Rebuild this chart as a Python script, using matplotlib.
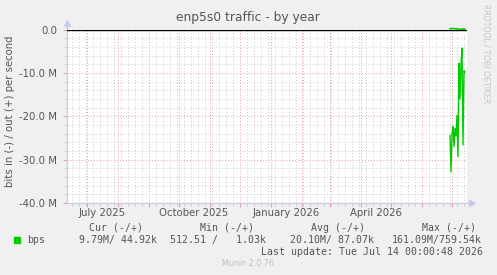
#!/usr/bin/env python3
"""Munin style yearly traffic graph for enp5s0."""

import datetime as dt

import matplotlib
matplotlib.use("Agg")
import matplotlib.dates as mdates
import matplotlib.pyplot as plt
import matplotlib.transforms as mtransforms
from matplotlib.ticker import FixedLocator, MultipleLocator, NullFormatter

# daily averages, last weeks of the year (bits per second)
days = [dt.datetime(2026, 6, 29) + dt.timedelta(days=i) for i in range(16)]
bits_in = [24.5e6, 32.8e6, 24.0e6, 22.4e6, 27.0e6, 22.8e6, 24.5e6, 19.8e6,
           29.3e6, 7.8e6, 16.0e6, 8.0e6, 4.3e6, 26.6e6, 9.5e6, 9.79e6]
bits_out = [150e3, 200e3, 220e3, 250e3, 200e3, 180e3, 160e3, 150e3,
            120e3, 90e3, 70e3, 60e3, 45e3, 150e3, 60e3, 44.9e3]

x_start = dt.datetime(2025, 6, 11)
x_end = dt.datetime(2026, 7, 16)
month_labels = ["July 2025", "October 2025", "January 2026", "April 2026"]
month_label_pos = [dt.datetime(2025, 7, 16), dt.datetime(2025, 10, 16),
                   dt.datetime(2026, 1, 16), dt.datetime(2026, 4, 16)]
y_ticks = [0, -10e6, -20e6, -30e6, -40e6]
y_tick_labels = ["0.0", "-10.0 M", "-20.0 M", "-30.0 M", "-40.0 M"]

BG = "#f0f0f0"
GREEN = "#00cc00"
TXT = "#555555"
MAJOR = "#e8a0a0"
MINOR = "#cccccc"
AXIS = "#c8c8f0"

W, H = 497, 275
fig = plt.figure(figsize=(W / 100, H / 100), dpi=100, facecolor=BG)
left, right, top, bottom = 67, 467, 29.5, 203
ax = fig.add_axes([left / W, 1 - bottom / H, (right - left) / W, (bottom - top) / H])
ax.set_facecolor("white")

ax.set_xlim(x_start, x_end)
ax.set_ylim(-40e6, 0)

# grid
ax.xaxis.set_major_locator(mdates.MonthLocator())
ax.xaxis.set_minor_locator(mdates.WeekdayLocator(byweekday=mdates.MO))
ax.xaxis.set_major_formatter(NullFormatter())
ax.yaxis.set_major_locator(FixedLocator(y_ticks))
ax.yaxis.set_minor_locator(MultipleLocator(2e6))
ax.set_yticks(y_ticks, y_tick_labels)
ax.grid(which="minor", color=MINOR, linestyle=(0, (1, 2)), linewidth=0.7)
ax.grid(which="major", color=MAJOR, linestyle=(0, (1, 2)), linewidth=0.7)
ax.set_axisbelow(True)

ax.tick_params(axis="both", which="major", length=3, color=MAJOR, labelsize=7.3,
               labelcolor=TXT, pad=4)
ax.tick_params(axis="both", which="minor", length=2, color=MINOR)

for side in ["top", "right", "left", "bottom"]:
    ax.spines[side].set_visible(False)

# axis lines with arrows
ax.plot([0, 1.01], [0, 0], color=AXIS, lw=0.9, transform=ax.transAxes, clip_on=False)
ax.plot([0, 0], [0, 1.03], color=AXIS, lw=0.9, transform=ax.transAxes, clip_on=False)
ax.plot([1.012], [0], marker=">", ms=4, color=AXIS, transform=ax.transAxes, clip_on=False)
ax.plot([0], [1.035], marker="^", ms=4, color=AXIS, transform=ax.transAxes, clip_on=False)

# data
ax.axhline(0, color="black", lw=1.0, zorder=3)
ax.plot(days, [-v for v in bits_in], color=GREEN, lw=1.0, zorder=4)
ax.plot(days, bits_out, color=GREEN, lw=1.2, zorder=4, clip_on=False)

# month labels
trans = mtransforms.blended_transform_factory(ax.transData, ax.transAxes)
for pos, lab in zip(month_label_pos, month_labels):
    ax.text(pos, -0.055, lab, transform=trans, ha="center", va="center",
            fontsize=7.3, color=TXT)

fig.text(248 / W, 1 - 18 / H, "enp5s0 traffic - by year", ha="center", va="center",
         fontsize=8.8, color=TXT)
fig.text(10 / W, 1 - 111 / H, "bits in (-) / out (+) per second", rotation=90,
         ha="center", va="center", fontsize=7.3, color=TXT)
fig.text(486 / W, 1 - 54 / H, "RRDTOOL / TOBI OETIKER", rotation=270,
         ha="center", va="center", fontsize=5.6, color="#c8c8c8")

# legend block
mono = dict(family="DejaVu Sans Mono", fontsize=7.15, color=TXT, va="center")
fig.patches.append(plt.Rectangle((14 / W, 1 - 243 / H), 6 / W, 6 / H,
                                 transform=fig.transFigure, color=GREEN))
row_h, row_v, row_u = 1 - 227.7 / H, 1 - 240 / H, 1 - 251.7 / H
fig.text(26.7 / W, row_v, "bps", **mono)
for xl, head in [(89, "Cur (-/+)"), (200, "Min (-/+)"),
                 (311, "Avg (-/+)"), (422, "Max (-/+)")]:
    fig.text(xl / W, row_h, head, **mono)
val_x = [(157, "9.79M/ 44.92k"), (266, "512.51 /   1.03k"),
         (374, "20.10M/ 87.07k"), (482, "161.09M/759.54k")]
for xr, val in val_x:
    fig.text(xr / W, row_v, val, ha="right", **mono)
fig.text(482.7 / W, row_u, "Last update: Tue Jul 14 00:00:48 2026", ha="right", **mono)
fig.text(248 / W, 1 - 264 / H, "Munin 2.0.76", ha="center", va="center",
         fontsize=5.8, color="#c0c0c0")

fig.savefig("out.png", dpi=100, facecolor=BG)
plt.close(fig)
